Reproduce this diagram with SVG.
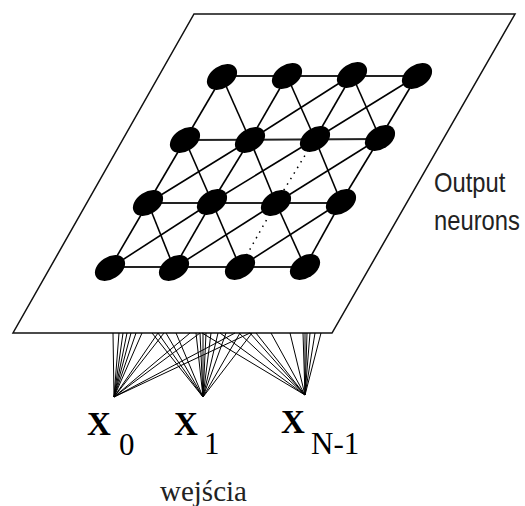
<svg xmlns="http://www.w3.org/2000/svg" width="525" height="506" viewBox="0 0 525 506">
<defs>
<style>
.plane{fill:#fff;stroke:#111;stroke-width:1.5}
.h{stroke:#222;stroke-width:2}
.d{stroke:#000;stroke-width:1.6}
.dot{stroke:#000;stroke-width:1.5;stroke-dasharray:1.5 5}
.fan{stroke:#000;stroke-width:1;fill:none}
.n{fill:#000}
.lbl{font-family:"Liberation Sans",Arial,sans-serif;font-size:27px;fill:#222}
.x{font-family:"Liberation Serif","Times New Roman",serif;font-size:33px;font-weight:bold;fill:#000}
.sub{font-family:"Liberation Serif","Times New Roman",serif;font-size:31px;fill:#000}
.w{font-family:"Liberation Serif","Times New Roman",serif;font-size:29px;fill:#222}
</style>
</defs>
<rect width="525" height="506" fill="#fff"/>
<polygon id="plane" class="plane" points="194,14 515,14 332,333 13,333"/>
<g id="connectors">
<line class="h" x1="222" y1="76" x2="417" y2="76"/>
<line class="h" x1="185" y1="140" x2="380" y2="139"/>
<line class="h" x1="148" y1="203" x2="341" y2="203"/>
<line class="h" x1="110" y1="267" x2="305" y2="267"/>
<line class="d" x1="222" y1="77" x2="185" y2="140"/>
<line class="d" x1="185" y1="140" x2="148" y2="203"/>
<line class="d" x1="148" y1="203" x2="110" y2="268"/>
<line class="d" x1="287" y1="76" x2="250" y2="140"/>
<line class="d" x1="250" y1="140" x2="212" y2="202"/>
<line class="d" x1="212" y1="202" x2="174" y2="268"/>
<line class="d" x1="352" y1="75" x2="315" y2="139"/>
<line class="dot" x1="315" y1="139" x2="276" y2="203"/>
<line class="dot" x1="276" y1="203" x2="240" y2="267"/>
<line class="d" x1="417" y1="76" x2="380" y2="138"/>
<line class="d" x1="380" y1="138" x2="341" y2="202"/>
<line class="d" x1="341" y1="202" x2="305" y2="267"/>
<line class="d" x1="222" y1="77" x2="250" y2="140"/>
<line class="d" x1="287" y1="76" x2="315" y2="139"/>
<line class="d" x1="352" y1="75" x2="380" y2="138"/>
<line class="d" x1="185" y1="140" x2="212" y2="202"/>
<line class="d" x1="250" y1="140" x2="276" y2="203"/>
<line class="d" x1="315" y1="139" x2="341" y2="202"/>
<line class="d" x1="148" y1="203" x2="174" y2="268"/>
<line class="d" x1="212" y1="202" x2="240" y2="267"/>
<line class="d" x1="276" y1="203" x2="305" y2="267"/>
<line class="d" x1="250" y1="140" x2="352" y2="75"/>
<line class="d" x1="315" y1="139" x2="417" y2="76"/>
<line class="d" x1="148" y1="203" x2="250" y2="140"/>
<line class="d" x1="212" y1="202" x2="315" y2="139"/>
<line class="d" x1="276" y1="203" x2="380" y2="138"/>
<line class="d" x1="110" y1="268" x2="212" y2="202"/>
<line class="d" x1="174" y1="268" x2="276" y2="203"/>
<line class="d" x1="240" y1="267" x2="341" y2="202"/>
<path class="fan" d="M114,397 L113,333 M114,397 L119,333 M114,397 L123,333 M114,397 L127,333 M114,397 L131,333 M114,397 L136,333 M114,397 L142,333 M114,397 L158,333 M114,397 L164,333 M114,397 L190,333 M114,397 L200,333 M114,397 L235,333 M114,397 L250,333"/>
<path class="fan" d="M203,397 L152,333 M203,397 L158,333 M203,397 L166,333 M203,397 L176,333 M203,397 L196,333 M203,397 L200,333 M203,397 L203,333 M203,397 L206,333 M203,397 L211,333 M203,397 L218,333 M203,397 L226,333 M203,397 L240,333 M203,397 L252,333"/>
<path class="fan" d="M305,395 L202,333 M305,395 L220,333 M305,395 L239,333 M305,395 L250,333 M305,395 L256,333 M305,395 L271,333 M305,395 L290,333 M305,395 L303,333 M305,395 L305,333 M305,395 L307,333 M305,395 L310,333 M305,395 L315,333 M305,395 L321,333"/>
</g>
<g id="neurons">
<g id="n11"><ellipse class="n" cx="222" cy="77" rx="16.5" ry="11" transform="rotate(-33 222 77)"/></g>
<g id="n12"><ellipse class="n" cx="287" cy="76" rx="16.5" ry="11" transform="rotate(-33 287 76)"/></g>
<g id="n13"><ellipse class="n" cx="352" cy="75" rx="16.5" ry="11" transform="rotate(-33 352 75)"/></g>
<g id="n14"><ellipse class="n" cx="417" cy="76" rx="16.5" ry="11" transform="rotate(-33 417 76)"/></g>
<g id="n21"><ellipse class="n" cx="185" cy="140" rx="16.5" ry="11" transform="rotate(-33 185 140)"/></g>
<g id="n22"><ellipse class="n" cx="250" cy="140" rx="16.5" ry="11" transform="rotate(-33 250 140)"/></g>
<g id="n23"><ellipse class="n" cx="315" cy="139" rx="16.5" ry="11" transform="rotate(-33 315 139)"/></g>
<g id="n24"><ellipse class="n" cx="380" cy="138" rx="16.5" ry="11" transform="rotate(-33 380 138)"/></g>
<g id="n31"><ellipse class="n" cx="148" cy="203" rx="16.5" ry="11" transform="rotate(-33 148 203)"/></g>
<g id="n32"><ellipse class="n" cx="212" cy="202" rx="16.5" ry="11" transform="rotate(-33 212 202)"/></g>
<g id="n33"><ellipse class="n" cx="276" cy="203" rx="16.5" ry="11" transform="rotate(-33 276 203)"/></g>
<g id="n34"><ellipse class="n" cx="341" cy="202" rx="16.5" ry="11" transform="rotate(-33 341 202)"/></g>
<g id="n41"><ellipse class="n" cx="110" cy="268" rx="16.5" ry="11" transform="rotate(-33 110 268)"/></g>
<g id="n42"><ellipse class="n" cx="174" cy="268" rx="16.5" ry="11" transform="rotate(-33 174 268)"/></g>
<g id="n43"><ellipse class="n" cx="240" cy="267" rx="16.5" ry="11" transform="rotate(-33 240 267)"/></g>
<g id="n44"><ellipse class="n" cx="305" cy="267" rx="16.5" ry="11" transform="rotate(-33 305 267)"/></g>
</g>
<g id="output-label" transform="translate(434,0) scale(0.88,1)">
<text class="lbl" x="0" y="192">Output</text>
<text class="lbl" x="0" y="230">neurons</text>
</g>
<g id="x0"><text class="x" x="87" y="435">X</text><text class="sub" x="119" y="455">0</text></g>
<g id="x1"><text class="x" x="174" y="435">X</text><text class="sub" x="204" y="454">1</text></g>
<g id="xn1"><text class="x" x="281" y="433">X</text><text class="sub" x="311" y="454">N-1</text></g>
<g id="inputs-label"><text class="w" x="160" y="501">wejścia</text></g>
</svg>
